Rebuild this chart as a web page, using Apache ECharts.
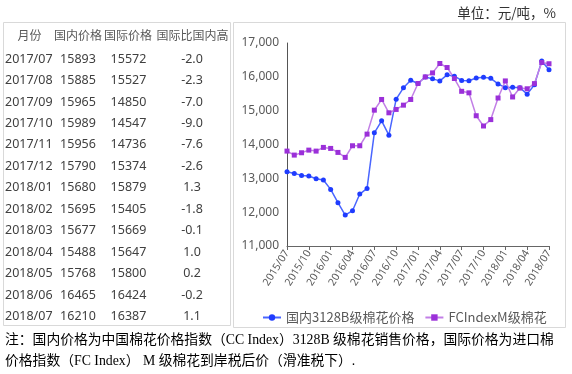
<!DOCTYPE html>
<html>
<head>
<meta charset="utf-8">
<script src="https://cdn.jsdelivr.net/npm/echarts@6/dist/echarts.min.js"></script>
<style>
html,body{margin:0;padding:0;background:#fff;}
#c{width:572px;height:374px;}
</style>
</head>
<body>
<div id="c"></div>
<script>
// ---- data ----
var months = ['2015/07','2015/08','2015/09','2015/10','2015/11','2015/12',
  '2016/01','2016/02','2016/03','2016/04','2016/05','2016/06',
  '2016/07','2016/08','2016/09','2016/10','2016/11','2016/12',
  '2017/01','2017/02','2017/03','2017/04','2017/05','2017/06',
  '2017/07','2017/08','2017/09','2017/10','2017/11','2017/12',
  '2018/01','2018/02','2018/03','2018/04','2018/05','2018/06','2018/07'];
var domestic = [13194,13146,13087,13067,12987,12949,
  12673,12279,11915,12043,12535,12703,
  14345,14700,14277,15340,15675,15900,
  15802,15998,15940,15880,16058,16019,
  15893,15885,15965,15989,15956,15790,
  15680,15695,15677,15488,15768,16465,16210];
var international = [13805,13687,13756,13834,13805,13914,
  13884,13766,13619,13963,13963,14307,
  15015,15331,14937,15036,15163,15331,
  15803,15998,16116,16394,16275,15950,
  15572,15527,14850,14547,14736,15374,
  15879,15405,15669,15647,15800,16424,16387];
var gapPct = ['-2.0','-2.3','-7.0','-9.0','-7.6','-2.6','1.3','-1.8','-0.1','1.0','0.2','-0.2','1.1'];
var tableHeaders = ['月份','国内价格','国际价格','国际比国内高'];
var seriesNames = ['国内3128B级棉花价格','FCIndexM级棉花'];
var unitText = '单位：元/吨，%';
var noteLines = ['注：国内价格为中国棉花价格指数（CC Index）3128B 级棉花销售价格，国际价格为进口棉',
                 '价格指数（FC Index） M 级棉花到岸税后价（滑准税下）.'];

// ---- table graphics ----
var tableStart = months.length - gapPct.length;
var graphics = [];
graphics.push({type:'rect', shape:{x:3.5,y:22.5,width:227,height:303}, style:{fill:'none',stroke:'#d9d9d9',lineWidth:1}, silent:true});
graphics.push({type:'rect', shape:{x:233.5,y:22.5,width:332,height:305}, style:{fill:'none',stroke:'#d9d9d9',lineWidth:1}, silent:true});
var headerX = [29.5, 78, 128, 192.5];
tableHeaders.forEach(function(h,i){
  graphics.push({type:'text', x:headerX[i], y:35, style:{text:h, fill:'#595959', font:'12px "Noto Sans CJK SC","Noto Sans",sans-serif', textAlign:'center', textVerticalAlign:'middle'}});
});
for (var r=0; r<gapPct.length; r++){
  var idx = tableStart + r;
  var yy = 59 + r*21.47;
  var font = '12.5px "Noto Sans","Noto Sans CJK SC",sans-serif';
  graphics.push({type:'text', x:5, y:yy, style:{text:months[idx], fill:'#404040', font:font, textAlign:'left', textVerticalAlign:'middle'}});
  graphics.push({type:'text', x:78, y:yy, style:{text:String(domestic[idx]), fill:'#404040', font:font, textAlign:'center', textVerticalAlign:'middle'}});
  graphics.push({type:'text', x:128.5, y:yy, style:{text:String(international[idx]), fill:'#404040', font:font, textAlign:'center', textVerticalAlign:'middle'}});
  graphics.push({type:'text', x:192, y:yy, style:{text:gapPct[r], fill:'#404040', font:font, textAlign:'center', textVerticalAlign:'middle'}});
}
graphics.push({type:'text', x:556, y:13, style:{text:unitText, fill:'#333', font:'13.5px "Noto Sans CJK SC",sans-serif', textAlign:'right', textVerticalAlign:'middle'}});
noteLines.forEach(function(t,i){
  graphics.push({type:'text', x:5, y:340 + i*21, style:{text:t, fill:'#000', font:'13.8px "Liberation Serif","Noto Sans CJK SC",serif', textAlign:'left', textVerticalAlign:'middle'}});
});

var chart = echarts.init(document.getElementById('c'), null, {renderer:'canvas'});
chart.setOption({
  animation:false,
  backgroundColor:'#fff',
  grid:{left:287, right:23, top:43, bottom:128, containLabel:false},
  legend:{
    left:257, top:306, itemWidth:18, itemHeight:8, itemGap:10,
    textStyle:{fontSize:13, color:'#595959', fontFamily:'"Noto Sans CJK SC","Noto Sans",sans-serif'},
    data:seriesNames
  },
  xAxis:{
    type:'category', data:months, boundaryGap:false,
    axisLine:{lineStyle:{color:'#666', width:1}},
    axisTick:{show:true, interval:2, length:4, lineStyle:{color:'#666'}},
    axisLabel:{interval:2, rotate:58, fontSize:10.5, color:'#595959', margin:5, hideOverlap:false, fontFamily:'"Noto Sans",sans-serif'}
  },
  yAxis:{
    type:'value', min:11000, max:17000, interval:1000,
    axisLine:{show:true, lineStyle:{color:'#555', width:1}},
    axisTick:{show:false},
    splitLine:{show:false},
    axisLabel:{fontSize:12, color:'#595959', margin:8, fontFamily:'"Noto Sans",sans-serif'}
  },
  series:[
    {name:seriesNames[0], type:'line', data:domestic, symbol:'circle', symbolSize:5, showSymbol:true, showAllSymbol:true,
     itemStyle:{color:'#1f3cff'}, lineStyle:{color:'#4a66ff', width:1.5}},
    {name:seriesNames[1], type:'line', data:international, symbol:'rect', symbolSize:5, showSymbol:true, showAllSymbol:true,
     itemStyle:{color:'#9b30d9'}, lineStyle:{color:'#c27fe6', width:1.5}}
  ],
  graphic:graphics
});
</script>
</body>
</html>
